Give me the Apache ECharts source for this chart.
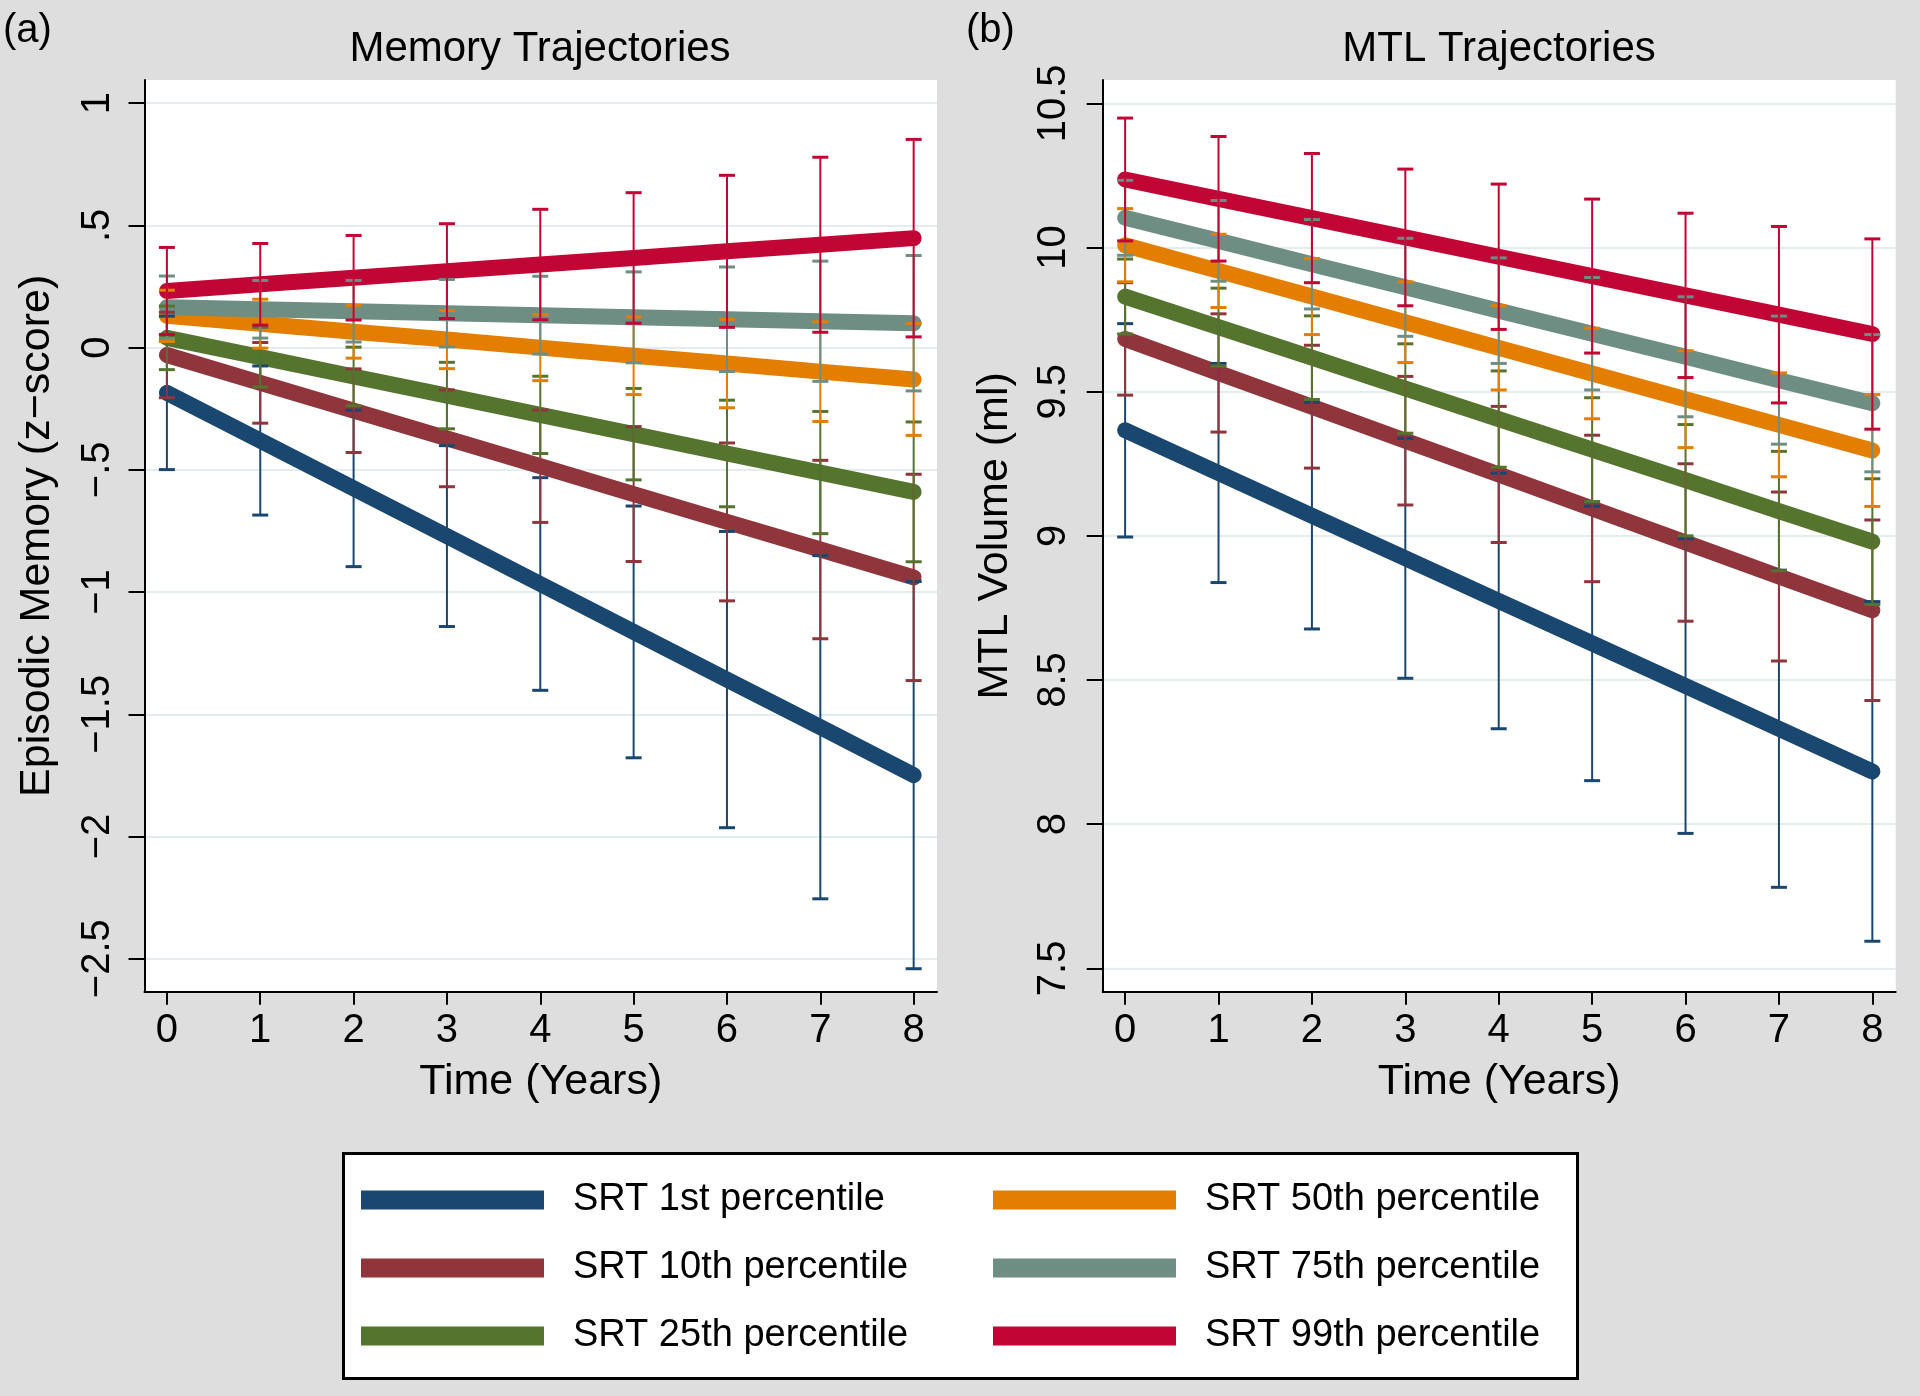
<!DOCTYPE html>
<html><head><meta charset="utf-8">
<script src="https://cdn.jsdelivr.net/npm/echarts@6/dist/echarts.min.js"></script>
<style>html,body{margin:0;padding:0;background:#dedede}#c{width:1920px;height:1396px}</style>
</head><body><div id="c"></div><script>
// ---------- categories / labels ----------
const years = [0, 1, 2, 3, 4, 5, 6, 7, 8];
const xTickLabels = ['0', '1', '2', '3', '4', '5', '6', '7', '8'];
const seriesNames = ['SRT 1st percentile', 'SRT 10th percentile', 'SRT 25th percentile',
                     'SRT 50th percentile', 'SRT 75th percentile', 'SRT 99th percentile'];
const seriesColors = ['#1a476f', '#90353b', '#55752f', '#e37e00', '#6e8e84', '#c10534'];

const memTicks = [-2.5, -2, -1.5, -1, -0.5, 0, 0.5, 1];
const memTickLabels = ['\u22122.5', '\u22122', '\u22121.5', '\u22121', '\u2212.5', '0', '.5', '1'];
const mtlTicks = [7.5, 8, 8.5, 9, 9.5, 10, 10.5];
const mtlTickLabels = ['7.5', '8', '8.5', '9', '9.5', '10', '10.5'];

// ---------- panel (a): Episodic memory ----------
const memMean1  = [-0.185, -0.380, -0.576, -0.771, -0.967, -1.163, -1.358, -1.553, -1.749];
const memLo1    = [-0.499, -0.685, -0.896, -1.141, -1.402, -1.678, -1.964, -2.255, -2.541];
const memHi1    = [ 0.129, -0.075, -0.256, -0.401, -0.532, -0.648, -0.752, -0.851, -0.957];

const memMean10 = [-0.030, -0.144, -0.258, -0.371, -0.485, -0.599, -0.713, -0.826, -0.940];
const memLo10   = [-0.205, -0.309, -0.429, -0.569, -0.715, -0.875, -1.036, -1.191, -1.362];
const memHi10   = [ 0.145,  0.021, -0.087, -0.173, -0.255, -0.323, -0.390, -0.461, -0.518];

const memMean25 = [ 0.040, -0.039, -0.118, -0.196, -0.275, -0.354, -0.433, -0.511, -0.590];
const memLo25   = [-0.090, -0.161, -0.238, -0.332, -0.433, -0.541, -0.651, -0.761, -0.876];
const memHi25   = [ 0.170,  0.083,  0.002, -0.060, -0.117, -0.167, -0.215, -0.261, -0.304];

const memMean50 = [ 0.130,  0.098,  0.065,  0.033,  0.000, -0.033, -0.065, -0.098, -0.130];
const memLo50   = [ 0.025, -0.002, -0.043, -0.086, -0.135, -0.192, -0.246, -0.302, -0.359];
const memHi50   = [ 0.235,  0.198,  0.173,  0.152,  0.135,  0.126,  0.116,  0.106,  0.099];

const memMean75 = [ 0.165,  0.157,  0.149,  0.141,  0.133,  0.124,  0.116,  0.108,  0.100];
const memLo75   = [ 0.037,  0.039,  0.023,  0.003, -0.026, -0.062, -0.098, -0.138, -0.177];
const memHi75   = [ 0.293,  0.275,  0.275,  0.279,  0.292,  0.310,  0.330,  0.354,  0.377];

const memMean99 = [ 0.232,  0.259,  0.286,  0.313,  0.340,  0.367,  0.394,  0.421,  0.448];
const memLo99   = [ 0.054,  0.092,  0.113,  0.119,  0.114,  0.100,  0.083,  0.063,  0.044];
const memHi99   = [ 0.410,  0.426,  0.459,  0.507,  0.566,  0.634,  0.705,  0.779,  0.852];

// ---------- panel (b): MTL volume ----------
const mtlMean1  = [9.366, 9.218, 9.070, 8.922, 8.774, 8.627, 8.479, 8.331, 8.183];
const mtlLo1    = [8.996, 8.838, 8.677, 8.506, 8.331, 8.151, 7.968, 7.781, 7.594];
const mtlHi1    = [9.736, 9.598, 9.463, 9.338, 9.217, 9.103, 8.990, 8.881, 8.772];

const mtlMean10 = [9.683, 9.565, 9.448, 9.330, 9.213, 9.095, 8.977, 8.859, 8.742];
const mtlLo10   = [9.488, 9.360, 9.235, 9.107, 8.977, 8.841, 8.704, 8.566, 8.429];
const mtlHi10   = [9.878, 9.770, 9.661, 9.553, 9.449, 9.349, 9.250, 9.152, 9.055];

const mtlMean25 = [9.830, 9.724, 9.618, 9.511, 9.405, 9.299, 9.193, 9.086, 8.980];
const mtlLo25   = [9.700, 9.589, 9.473, 9.356, 9.238, 9.119, 9.000, 8.879, 8.762];
const mtlHi25   = [9.960, 9.859, 9.763, 9.666, 9.572, 9.479, 9.386, 9.293, 9.198];

const mtlMean50 = [10.008, 9.919, 9.830, 9.741, 9.652, 9.563, 9.474, 9.385, 9.296];
const mtlLo50   = [9.881, 9.792, 9.698, 9.601, 9.506, 9.406, 9.306, 9.205, 9.102];
const mtlHi50   = [10.135, 10.046, 9.962, 9.881, 9.798, 9.720, 9.642, 9.565, 9.490];

const mtlMean75 = [10.103, 10.023, 9.942, 9.862, 9.781, 9.701, 9.621, 9.540, 9.460];
const mtlLo75   = [9.973, 9.883, 9.787, 9.692, 9.598, 9.506, 9.413, 9.318, 9.222];
const mtlHi75   = [10.233, 10.163, 10.097, 10.032, 9.964, 9.896, 9.829, 9.762, 9.698];

const mtlMean99 = [10.236, 10.169, 10.102, 10.035, 9.968, 9.901, 9.834, 9.767, 9.700];
const mtlLo99   = [10.023, 9.953, 9.878, 9.798, 9.716, 9.634, 9.549, 9.461, 9.370];
const mtlHi99   = [10.449, 10.385, 10.326, 10.272, 10.220, 10.168, 10.119, 10.073, 10.030];

const memMeans = [memMean1, memMean10, memMean25, memMean50, memMean75, memMean99];
const memLows  = [memLo1, memLo10, memLo25, memLo50, memLo75, memLo99];
const memHighs = [memHi1, memHi10, memHi25, memHi50, memHi75, memHi99];
const mtlMeans = [mtlMean1, mtlMean10, mtlMean25, mtlMean50, mtlMean75, mtlMean99];
const mtlLows  = [mtlLo1, mtlLo10, mtlLo25, mtlLo50, mtlLo75, mtlLo99];
const mtlHighs = [mtlHi1, mtlHi10, mtlHi25, mtlHi50, mtlHi75, mtlHi99];

// ---------- helpers ----------
const FONT = "'Liberation Sans', Arial, Helvetica, sans-serif";
function labelFor(ticks, labels) {
  return function (v) {
    const i = ticks.findIndex(t => Math.abs(t - v) < 1e-9);
    return i >= 0 ? labels[i] : '';
  };
}
function xAxisCfg(gi) {
  return {
    type: 'value', gridIndex: gi, min: -0.24, max: 8.25,
    axisLine: { show: true, onZero: false, lineStyle: { color: '#000', width: 2 } },
    axisTick: { show: true, length: 13, customValues: years, lineStyle: { color: '#000', width: 2 } },
    axisLabel: { customValues: years, formatter: labelFor(years, xTickLabels), fontSize: 40,
                 color: '#000', margin: 19, fontFamily: FONT },
    splitLine: { show: false },
    name: 'Time (Years)', nameLocation: 'middle', nameGap: 69,
    nameTextStyle: { fontSize: 43, color: '#000', fontFamily: FONT }
  };
}
function yAxisCfg(gi, min, max, ticks, labels, name, margin) {
  return {
    type: 'value', gridIndex: gi, min: min, max: max,
    axisLine: { show: true, onZero: false, lineStyle: { color: '#000', width: 2 } },
    axisTick: { show: true, length: 16, customValues: ticks, lineStyle: { color: '#000', width: 2 } },
    axisLabel: { customValues: ticks, formatter: labelFor(ticks, labels), rotate: 90, fontSize: 40,
                 color: '#000', margin: margin, fontFamily: FONT },
    splitLine: { show: true, lineStyle: { color: '#e3edf0', width: 2 } },
    name: name, nameLocation: 'middle', nameGap: 86, nameRotate: 90,
    nameTextStyle: { fontSize: 43, color: '#000', fontFamily: FONT }
  };
}
function errorBarSeries(name, color, gi, lows, highs) {
  return {
    type: 'custom', name: name + ' CI', xAxisIndex: gi, yAxisIndex: gi, z: 4, silent: true,
    data: years.map((t, i) => [t, lows[i], highs[i]]),
    encode: { x: 0, y: [1, 2] },
    renderItem: function (params, api) {
      const x = api.value(0);
      const pLo = api.coord([x, api.value(1)]);
      const pHi = api.coord([x, api.value(2)]);
      const hw = 8;
      return {
        type: 'group',
        children: [
          { type: 'line', shape: { x1: pLo[0], y1: pLo[1], x2: pHi[0], y2: pHi[1] }, style: { stroke: color, lineWidth: 2 } },
          { type: 'line', shape: { x1: pLo[0] - hw, y1: pLo[1], x2: pLo[0] + hw, y2: pLo[1] }, style: { stroke: color, lineWidth: 3 } },
          { type: 'line', shape: { x1: pHi[0] - hw, y1: pHi[1], x2: pHi[0] + hw, y2: pHi[1] }, style: { stroke: color, lineWidth: 3 } }
        ]
      };
    }
  };
}
function lineSeries(name, color, gi, means) {
  return {
    type: 'line', name: name, xAxisIndex: gi, yAxisIndex: gi, z: 3, silent: true,
    data: years.map((t, i) => [t, means[i]]),
    color: color, showSymbol: false, symbol: 'none',
    lineStyle: { width: 16, cap: 'round', join: 'round', color: color }
  };
}

const series = [];
seriesNames.forEach((n, k) => series.push(lineSeries(n, seriesColors[k], 0, memMeans[k])));
seriesNames.forEach((n, k) => series.push(lineSeries(n, seriesColors[k], 1, mtlMeans[k])));
seriesNames.forEach((n, k) => series.push(errorBarSeries(n, seriesColors[k], 0, memLows[k], memHighs[k])));
seriesNames.forEach((n, k) => series.push(errorBarSeries(n, seriesColors[k], 1, mtlLows[k], mtlHighs[k])));

const legendCommon = {
  orient: 'vertical', top: 1180, padding: 0, itemWidth: 183, itemHeight: 19, itemGap: 28,
  icon: 'rect', itemStyle: { borderWidth: 0 }, selectedMode: false,
  textStyle: { fontSize: 38, lineHeight: 40, color: '#000', fontFamily: FONT, padding: [0, 0, 0, 24] }
};

const option = {
  animation: false,
  backgroundColor: '#dedede',
  textStyle: { fontFamily: FONT },
  title: [
    { text: 'Memory Trajectories', left: 540, top: 28, textAlign: 'center', padding: 0,
      textStyle: { fontSize: 42, fontWeight: 'normal', color: '#000', fontFamily: FONT } },
    { text: 'MTL Trajectories', left: 1499, top: 28, textAlign: 'center', padding: 0,
      textStyle: { fontSize: 42, fontWeight: 'normal', color: '#000', fontFamily: FONT } },
    { text: '(a)', left: 3, top: 11, padding: 0,
      textStyle: { fontSize: 40, fontWeight: 'normal', color: '#000', fontFamily: FONT } },
    { text: '(b)', left: 966, top: 11, padding: 0,
      textStyle: { fontSize: 40, fontWeight: 'normal', color: '#000', fontFamily: FONT } }
  ],
  grid: [
    { left: 144.5, top: 80, width: 792.5, height: 911.7, show: true, backgroundColor: '#ffffff',
      borderWidth: 0, containLabel: false, outerBoundsMode: 'none' },
    { left: 1102.7, top: 80, width: 793, height: 911.7, show: true, backgroundColor: '#ffffff',
      borderWidth: 0, containLabel: false, outerBoundsMode: 'none' }
  ],
  xAxis: [xAxisCfg(0), xAxisCfg(1)],
  yAxis: [
    yAxisCfg(0, -2.635, 1.095, memTicks, memTickLabels, 'Episodic Memory (z\u2212score)', 27),
    yAxisCfg(1, 7.419, 10.581, mtlTicks, mtlTickLabels, 'MTL Volume (ml)', 29)
  ],
  legend: [
    Object.assign({}, legendCommon, { left: 361, data: seriesNames.slice(0, 3) }),
    Object.assign({}, legendCommon, { left: 993, data: seriesNames.slice(3, 6) })
  ],
  graphic: [
    { type: 'rect', left: 342, top: 1152, z: -1, silent: true,
      shape: { width: 1234, height: 225 },
      style: { fill: '#ffffff', stroke: '#000000', lineWidth: 3 } }
  ],
  series: series
};

const chart = echarts.init(document.getElementById('c'), null, { renderer: 'canvas', width: 1920, height: 1396 });
chart.setOption(option);
</script></body></html>
